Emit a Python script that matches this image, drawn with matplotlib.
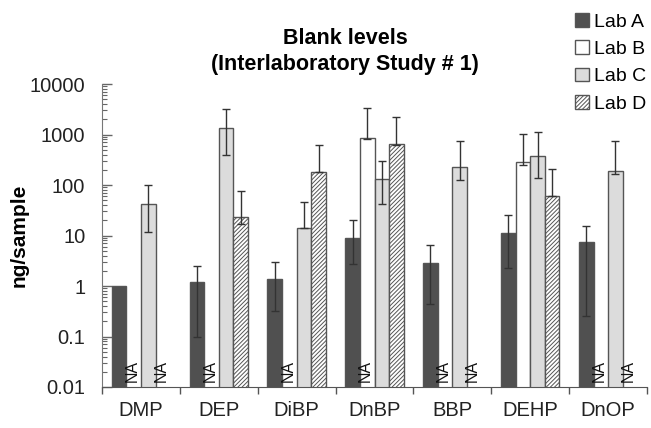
import numpy as np
import matplotlib
matplotlib.use("Agg")
import matplotlib.pyplot as plt
from matplotlib.patches import Patch

plt.rcParams['font.family'] = ['Liberation Sans', 'DejaVu Sans']
plt.rcParams['hatch.color'] = '#555555'
plt.rcParams['hatch.linewidth'] = 0.7

categories = ['DMP', 'DEP', 'DiBP', 'DnBP', 'BBP', 'DEHP', 'DnOP']
labs = ['Lab A', 'Lab B', 'Lab C', 'Lab D']
nan = np.nan

lab_a = [1.0, 1.2, 1.38, 9.0, 2.9, 11.4, 7.5]
lab_a_lo = [nan, 0.1, 0.32, 2.7, 0.44, 2.27, 0.25]
lab_a_hi = [nan, 2.5, 3.0, 20.3, 6.4, 25.8, 15.4]

lab_b = [nan, nan, nan, 865, nan, 285, nan]
lab_b_lo = [nan, nan, nan, 800, nan, 252, nan]
lab_b_hi = [nan, nan, nan, 3300, nan, 1010, nan]

lab_c = [43, 1330, 13.9, 129, 224, 380, 189]
lab_c_lo = [11.9, 400, 13.9, 42, 126, 140, 163]
lab_c_hi = [102, 3150, 46.6, 302, 753, 1123, 753]

lab_d = [nan, 23.5, 181, 649, nan, 60.5, nan]
lab_d_lo = [nan, 17, 181, 620, nan, 60.5, nan]
lab_d_hi = [nan, 77, 628, 2250, nan, 210, nan]

# slots flagged "NA" in the figure (category index, lab index)
na_flags = [(0, 1), (0, 3), (1, 1), (2, 1), (3, 1), (4, 1), (4, 3), (6, 1), (6, 3)]

yticks = [0.01, 0.1, 1, 10, 100, 1000, 10000]
yticklabels = ['0.01', '0.1', '1', '10', '100', '1000', '10000']

series = [(lab_a, lab_a_lo, lab_a_hi), (lab_b, lab_b_lo, lab_b_hi),
          (lab_c, lab_c_lo, lab_c_hi), (lab_d, lab_d_lo, lab_d_hi)]
facecolors = ['#505050', '#ffffff', '#dcdcdc', '#ffffff']
hatches = [None, None, None, '////////']
edge = '#555555'

fig = plt.figure(figsize=(6.51, 4.28), dpi=100)
ax = fig.add_axes([0.1567, 0.0958, 0.8372, 0.7079])

x = np.arange(len(categories))
w = 0.1875
for i, (vals, lo, hi) in enumerate(series):
    pos = x + (i - 1.5) * w
    v = np.array(vals, dtype=float)
    ax.bar(pos, v, width=w, bottom=0.001, color=facecolors[i], edgecolor=edge,
           linewidth=1.0, hatch=hatches[i], zorder=2)
    lo = np.array(lo, dtype=float)
    hi = np.array(hi, dtype=float)
    m = ~np.isnan(lo) & ~np.isnan(v)
    if m.any():
        ax.errorbar(pos[m], v[m], yerr=[v[m] - lo[m], hi[m] - v[m]], fmt='none',
                    ecolor='#333333', elinewidth=1.0, capsize=3, capthick=1.0, zorder=3)

for ci, li in na_flags:
    ax.text(x[ci] + (li - 1.5) * w - 0.02, 0.0125, 'NA', rotation=90, ha='center',
            va='bottom', fontsize=11.5, color='#111111', zorder=4)

ax.set_yscale('log')
ax.set_ylim(0.01, 10000)
ax.set_xlim(-0.5, len(categories) - 0.5)
ax.set_yticks(yticks)
ax.set_yticklabels(yticklabels)
ax.tick_params(axis='y', which='major', direction='in', length=7, width=1,
               labelsize=14.5, pad=12, color='#666666', labelcolor='#222222')
ax.tick_params(axis='y', which='minor', direction='in', length=3.5, width=0.8,
               color='#666666')

ax.set_xticks(np.arange(len(categories) + 1) - 0.5)
ax.set_xticklabels([''] * (len(categories) + 1))
ax.set_xticks(x, minor=True)
ax.set_xticklabels(categories, minor=True)
ax.tick_params(axis='x', which='major', direction='out', length=5, width=1, color='#555555')
ax.tick_params(axis='x', which='minor', length=0, labelsize=14.5, pad=10, labelcolor='#222222')

for s in ['top', 'right']:
    ax.spines[s].set_visible(False)
ax.spines['left'].set_color('#777777')
ax.spines['bottom'].set_color('#555555')

ax.set_ylabel('ng/sample', fontsize=15, fontweight='bold')
ax.yaxis.set_label_coords(-0.135, 0.5)

fig.text(0.53, 0.88, 'Blank levels\n(Interlaboratory Study # 1)', ha='center',
         va='center', fontsize=15.5, fontweight='bold', linespacing=1.3)

handles = [Patch(facecolor=facecolors[i], edgecolor=edge, hatch=hatches[i], linewidth=1.0)
           for i in range(4)]
fig.legend(handles, labs, loc='upper left', bbox_to_anchor=(0.872, 0.988),
           frameon=False, fontsize=14, handlelength=0.7, handleheight=0.7,
           handletextpad=0.25, labelspacing=0.5, borderaxespad=0.2, borderpad=0.2)

fig.savefig('out.png', dpi=100)
